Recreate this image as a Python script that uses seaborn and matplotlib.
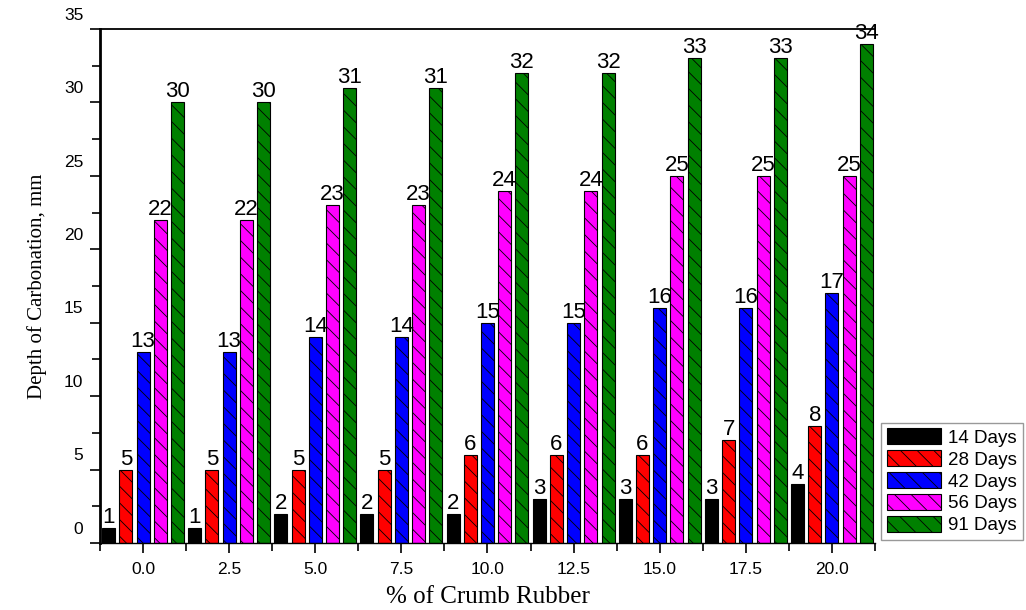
import numpy as np
import pandas as pd
import matplotlib
matplotlib.use('Agg')
import matplotlib.pyplot as plt
import matplotlib.transforms as mtransforms
from matplotlib.ticker import MultipleLocator, FixedLocator
import seaborn as sns

# Daten
crumb_rubber = ['0.0', '2.5', '5.0', '7.5', '10.0', '12.5', '15.0', '17.5', '20.0']
ages = ['14 Days', '28 Days', '42 Days', '56 Days', '91 Days']
d14 = [1, 1, 2, 2, 2, 3, 3, 3, 4]
d28 = [5, 5, 5, 5, 6, 6, 6, 7, 8]
d42 = [13, 13, 14, 14, 15, 15, 16, 16, 17]
d56 = [22, 22, 23, 23, 24, 24, 25, 25, 25]
d91 = [30, 30, 31, 31, 32, 32, 33, 33, 34]
colors = ['#000000', '#FF0000', '#0000FF', '#FF00FF', '#008000']
hatches = ['', '\\\\', '\\\\', '\\\\', '\\\\']

df = pd.DataFrame({
    'cr': crumb_rubber * 5,
    'age': np.repeat(ages, len(crumb_rubber)),
    'depth': d14 + d28 + d42 + d56 + d91,
})

sns.set_style('ticks')
plt.rcParams['font.family'] = ['Liberation Sans', 'DejaVu Sans']
plt.rcParams['hatch.linewidth'] = 0.6
plt.rcParams['text.color'] = 'black'
plt.rcParams['axes.labelcolor'] = 'black'
plt.rcParams['xtick.color'] = 'black'
plt.rcParams['ytick.color'] = 'black'
plt.rcParams['axes.edgecolor'] = 'black'

fig = plt.figure(figsize=(10.26, 6.10), dpi=100)
ax = fig.add_axes([100/1026, 1-543/610, 775/1026, (543-29)/610])

sns.barplot(data=df, x='cr', y='depth', hue='age', order=crumb_rubber,
            hue_order=ages, palette=colors, width=1.0, gap=0.25,
            edgecolor='black', linewidth=0.8, errorbar=None, legend=False,
            saturation=1, ax=ax)

for cont, h in zip(ax.containers, hatches):
    for p in cont.patches:
        p.set_hatch(h)
    ax.bar_label(cont, fmt='%d', fontsize=16, padding=0, color='black')

ax.set_xlim(-0.5, 8.5)
ax.set_ylim(0, 35)
ax.yaxis.set_major_locator(MultipleLocator(5))
ax.yaxis.set_minor_locator(MultipleLocator(2.5))
ax.xaxis.set_minor_locator(FixedLocator(np.arange(-0.5, 9, 1)))
ax.tick_params(axis='both', which='major', length=7, width=1.2, labelsize=12.5)
ax.tick_params(axis='both', which='minor', length=6, width=1.2)
ax.tick_params(axis='y', pad=5)
ax.tick_params(axis='x', pad=7)

ax.spines['left'].set_linewidth(2)
ax.spines['top'].set_linewidth(1.3)
ax.spines['bottom'].set_linewidth(1.0)
ax.spines['right'].set_visible(False)

ax.set_xlabel('% of Crumb Rubber', fontfamily='Liberation Serif', fontsize=18, labelpad=6)
ax.set_ylabel('Depth of Carbonation, mm', fontfamily='Liberation Serif', fontsize=15, labelpad=12)

# y-Beschriftungen leicht nach oben verschoben wie im Original
offset = mtransforms.ScaledTranslation(0, 11/72, fig.dpi_scale_trans)
for lab in ax.get_yticklabels():
    lab.set_transform(lab.get_transform() + offset)

fig.legend(ax.containers, ages, loc='lower left',
           bbox_to_anchor=(881/1026, 70/610), fontsize=13.5,
           handlelength=2.9, handleheight=0.95, labelspacing=0.18,
           handletextpad=0.4, borderpad=0.3, borderaxespad=0,
           fancybox=False, edgecolor='#999999', framealpha=1)

fig.savefig('out.png', dpi=100)
